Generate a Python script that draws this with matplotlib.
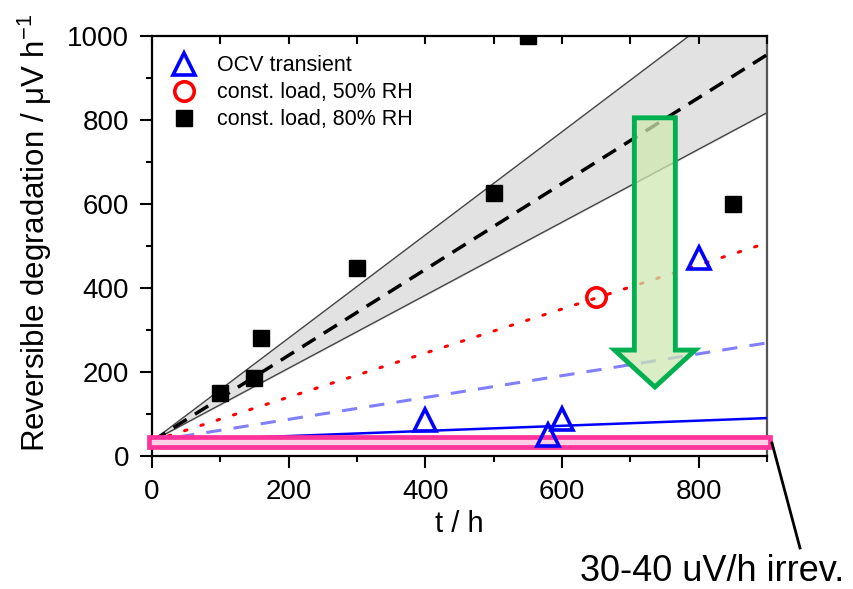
"""
Reversible degradation rate vs. operating time
"""

import matplotlib.pyplot as plt
from matplotlib.patches import FancyArrow, Rectangle
from matplotlib.ticker import MultipleLocator

plt.rcParams['font.family'] = ['Liberation Sans', 'DejaVu Sans']
plt.rcParams['mathtext.fontset'] = 'custom'
plt.rcParams['mathtext.rm'] = 'Liberation Sans'
plt.rcParams['mathtext.it'] = 'Liberation Sans'

# measured points
t_ocv = [400, 580, 600, 800]
deg_ocv = [85, 50, 88, 472]
t_50 = [650]
deg_50 = [379]
t_80 = [100, 150, 160, 300, 500, 550, 850]
deg_80 = [150, 186, 280, 448, 625, 1000, 600]

# linear fits, (intercept, value at t = 900 h)
t_fit = [0, 900]
fit_80 = [35, 955]
fit_80_upper = [35, 1140]
fit_80_lower = [35, 817]
fit_50 = [35, 507]
fit_ocv_mid = [35, 269]
fit_ocv = [35, 90]

# irreversible band, uV/h
irrev_low, irrev_high = 20, 44

fig = plt.figure(figsize=(8.54, 5.89), dpi=100)
ax = fig.add_axes([0.178, 0.226, 0.720, 0.713])

ax.fill_between(t_fit, fit_80_lower, fit_80_upper, color='#e2e2e2', zorder=1)
ax.plot(t_fit, fit_80_upper, color='#444444', lw=1.0, zorder=2)
ax.plot(t_fit, fit_80_lower, color='#444444', lw=1.0, zorder=2)
ax.plot(t_fit, fit_80, color='black', lw=2.5, ls=(0, (4.5, 2.8)), zorder=3)
ax.plot(t_fit, fit_50, color='red', lw=2.2, ls=(0, (0.8, 4.8)), dash_capstyle='round', zorder=3)
ax.plot(t_fit, fit_ocv_mid, color='#8080ff', lw=2.2, ls=(0, (5, 4)), zorder=3)
ax.plot(t_fit, fit_ocv, color='blue', lw=1.8, zorder=3)

# irreversible band
ax.add_patch(Rectangle((-5, irrev_low), 910, irrev_high - irrev_low,
                       facecolor='#ffd0e6', edgecolor='#ff3399', lw=3.4,
                       clip_on=False, zorder=4))

ax.plot(t_ocv, deg_ocv, ls='none', marker='^', ms=16, mfc='none', mec='blue',
        mew=2.6, label='OCV transient', zorder=5)
ax.plot(t_50, deg_50, ls='none', marker='o', ms=14, mfc='none', mec='red',
        mew=2.6, label='const. load, 50% RH', zorder=5)
ax.plot(t_80, deg_80, ls='none', marker='s', ms=12, color='black',
        label='const. load, 80% RH', zorder=5)

# arrow showing the drop from 80% RH to OCV
arrow_kw = dict(width=60, head_width=118, head_length=88, length_includes_head=True)
ax.add_patch(FancyArrow(736, 805, 0, -641, facecolor='#cfe8b0', alpha=0.75,
                        edgecolor='none', zorder=6, **arrow_kw))
ax.add_patch(FancyArrow(736, 805, 0, -641, facecolor='none',
                        edgecolor='#00b050', lw=3.5, zorder=6, **arrow_kw))

ax.set_xlim(0, 900)
ax.set_ylim(0, 1000)
ax.xaxis.set_major_locator(MultipleLocator(200))
ax.xaxis.set_minor_locator(MultipleLocator(100))
ax.yaxis.set_major_locator(MultipleLocator(200))
ax.yaxis.set_minor_locator(MultipleLocator(100))
ax.tick_params(which='both', direction='out', width=1.5, labelsize=20, top=False, right=False)
ax.tick_params(which='major', length=8.5, pad=8)
ax.tick_params(which='minor', length=4.5)
for side in ['left', 'bottom', 'top']:
    ax.spines[side].set_linewidth(1.6)
ax.spines['right'].set_linewidth(1.6)
ax.spines['right'].set_color('#555555')

# inward ticks along the top edge
ax_top = ax.twiny()
ax_top.set_xlim(ax.get_xlim())
ax_top.xaxis.set_major_locator(MultipleLocator(100))
ax_top.tick_params(axis='x', direction='in', width=1.5, length=6, labeltop=False)
ax_top.tick_params(axis='y', left=False, right=False, labelleft=False, labelright=False)
for side in ax_top.spines.values():
    side.set_visible(False)

ax.set_xlabel('t / h', fontsize=21, labelpad=4)
ax.set_ylabel('Reversible degradation / \u03bcV h$^{-1}$', fontsize=22.5)
ax.yaxis.set_label_coords(-0.16, 0.532)

ax.legend(loc='upper left', frameon=False, fontsize=15.5, handletextpad=0.9,
          borderaxespad=0.65, borderpad=0.25, labelspacing=0.28, handlelength=1.2)

# callout for the irreversible part
fig.add_artist(plt.Line2D([772 / 854, 800 / 854], [1 - 443 / 589, 1 - 548 / 589],
                          color='black', lw=2))
fig.text(580 / 854, 1 - 581 / 589, '30-40 uV/h irrev.', fontsize=26, ha='left', va='baseline')

fig.savefig('out.png', dpi=100)
